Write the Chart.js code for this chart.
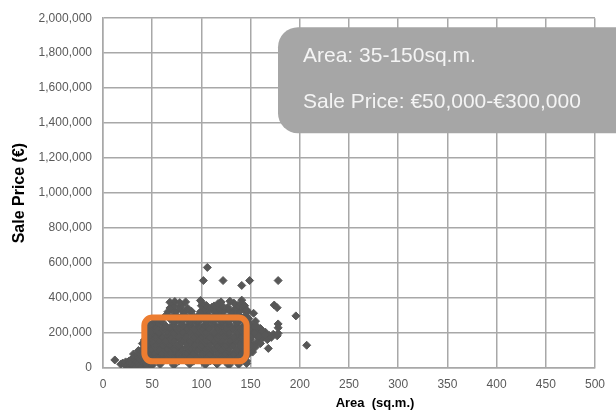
<!DOCTYPE html>
<html lang="en">
<head>
<meta charset="utf-8">
<title>Sale price vs area</title>
<script src="https://cdn.jsdelivr.net/npm/chart.js@4.4.1/dist/chart.umd.min.js"></script>
<style>
  html, body { margin: 0; padding: 0; background: #fff; }
  #wrap { width: 616px; height: 411px; position: relative; }
</style>
</head>
<body>
<div id="wrap"><canvas id="chart"></canvas></div>
<script>
const areaTicks = [0, 50, 100, 150, 200, 250, 300, 350, 400, 450, 500];
const priceTicks = [0, 200000, 400000, 600000, 800000, 1000000, 1200000, 1400000, 1600000, 1800000, 2000000];

// [area sq.m., sale price €]
const coreSales = [
  [44,40000],[52,43000],[60,38000],[68,42000],[77,40000],[84,44000],[92,39000],[100,42000],[109,40000],[116,43000],[124,38000],[132,41000],[140,44000],[146,40000],
  [48,51000],[56,53000],[64,49000],[72,52000],[80,50000],[88,54000],[96,50000],[104,52000],[112,49000],[120,53000],[128,51000],[136,50000],[143,53000],
  [48,62000],[56,65000],[64,60000],[72,63000],[81,61000],[88,66000],[96,62000],[105,60000],[112,64000],[120,62000],[128,66000],[136,61000],[144,63000],
  [44,74000],[52,76000],[60,72000],[68,75000],[76,73000],[84,77000],[92,74000],[100,72000],[108,76000],[116,73000],[124,75000],[132,77000],[140,73000],[147,75000],
  [45,85000],[52,88000],[60,84000],[69,87000],[76,86000],[85,89000],[92,84000],[101,87000],[108,85000],[117,88000],[124,86000],[133,84000],[140,89000],[147,86000],
  [48,98000],[56,100000],[64,96000],[73,99000],[80,97000],[88,101000],[96,98000],[104,96000],[112,100000],[120,98000],[128,96000],[136,100000],[144,97000],
  [49,110000],[57,108000],[65,112000],[73,109000],[80,111000],[89,113000],[97,108000],[104,111000],[113,110000],[121,108000],[128,112000],[137,110000],[144,108000],
  [45,122000],[53,120000],[61,124000],[69,121000],[76,123000],[85,120000],[93,124000],[100,122000],[108,120000],[117,123000],[124,121000],[132,124000],[140,120000],[147,123000],
  [45,134000],[53,136000],[61,132000],[68,135000],[77,133000],[85,137000],[93,134000],[100,132000],[109,136000],[116,134000],[125,131000],[132,135000],[141,133000],[147,137000],
  [49,146000],[57,148000],[64,144000],[72,147000],[80,145000],[89,149000],[96,146000],[104,144000],[113,148000],[120,146000],[128,144000],[136,148000],[144,145000],
  [48,158000],[57,160000],[64,156000],[72,159000],[81,161000],[89,157000],[96,160000],[105,158000],[112,162000],[120,157000],[129,159000],[136,161000],[144,156000],
  [45,170000],[53,172000],[61,168000],[68,171000],[77,169000],[84,173000],[92,170000],[100,168000],[109,172000],[116,170000],[124,168000],[133,172000],[140,169000],[147,171000],
  [46,181000],[53,184000],[60,180000],[69,183000],[76,182000],[84,185000],[93,180000],[100,183000],[108,181000],[117,184000],[124,182000],[133,179000],[140,184000],[147,181000],
  [49,194000],[57,196000],[65,192000],[72,195000],[80,193000],[89,197000],[96,194000],[104,192000],[113,196000],[120,194000],[128,192000],[137,196000],[144,193000],
  [49,207000],[57,204000],[65,208000],[72,205000],[81,206000],[88,209000],[97,204000],[104,207000],[113,205000],[120,208000],[128,204000],[137,206000],[144,209000],
  [45,218000],[53,220000],[61,216000],[69,219000],[76,217000],[85,221000],[93,218000],[100,216000],[108,220000],[117,218000],[124,216000],[132,220000],[140,217000],[147,219000],
  [47,232000],[55,228000],[61,233000],[68,230000],[77,228000],[85,232000],[92,229000],[101,231000],[108,228000],[116,233000],[125,230000],[132,227000],[141,231000],
  [52,242000],[64,240000],[72,243000],[81,241000],[88,244000],[97,240000],[104,243000],[113,241000],[120,244000],[129,240000],[136,243000],[144,241000],
  [50,250000],[57,256000],[72,253000],[80,255000],[89,252000],[96,256000],[105,253000],[112,251000],[121,255000],[128,253000],[136,256000],[145,252000],
  [60,266000],[72,264000],[80,268000],[89,265000],[96,267000],[105,264000],[113,268000],[121,265000],[128,267000],[137,264000],[144,268000],
  [53,276000],[68,280000],[76,277000],[85,279000],[93,276000],[100,280000],[109,277000],[117,281000],[124,276000],[133,279000],[140,277000],
  [68,290000],[76,292000],[85,288000],[93,291000],[101,289000],[109,293000],[117,290000],[125,288000],[133,292000],[141,289000],
  [64,302000],[72,299000],[81,303000],[89,298000],[97,301000],[104,304000],[113,300000],[120,302000],[129,298000],[137,303000],[145,300000]
];
const upperSales = [
  [66,322000],[74,325000],[83,320000],[90,324000],[99,321000],[107,326000],[115,321000],[123,324000],[131,320000],[139,325000],[147,322000],
  [70,333000],[79,335000],[87,331000],[103,332000],[111,336000],[119,332000],[127,335000],[135,331000],[143,334000],
  [68,343000],[78,348000],[86,342000],[103,344000],[111,349000],[119,343000],[127,347000],[135,343000],[143,349000],
  [72,357000],[80,360000],[100,356000],[105,358000],[113,355000],[121,357000],[137,358000],[144,356000],
  [101,372000],[117,369000],[133,371000],[140,367000],
  [68,376000],[73,380000],[78,374000],[84,378000],[99,386000],[120,378000],[129,382000],[141,388000]
];
const rightTailSales = [
  [150,250000],[153,232000],[157,214000],[161,196000],[165,205000],[169,186000],[173,193000],[177,184000],
  [151,207000],[155,188000],[159,170000],[163,175000],[150,162000],[149,142000],[153,131000],[157,150000],
  [167,162000],[152,112000],[149,95000],[146,75000],[152,91000],[155,268000],[148,282000],[151,180000],[160,226000],
  [148,220000],[147,195000],[154,200000],[158,182000],[162,210000],[148,240000],[156,240000],[146,170000],
  [150,125000],[147,110000],[155,120000],[160,140000],[164,188000],[171,175000]
];
const lowerLeftSales = [
  [12,46000],[18,22000],[20,28000],[22,20000],[23,35000],[24,12000],[26,38000],[27,5000],[27,28000],[28,45000],
  [29,20000],[30,55000],[31,10000],[31,80000],[32,62000],[33,5000],[33,42000],[34,32000],[35,75000],[36,28000],
  [36,58000],[36,100000],[37,15000],[38,50000],[38,82000],[39,5000],[39,98000],[40,65000],[40,140000],[41,30000],
  [41,105000],[42,120000],[42,160000],[43,70000],[43,90000],[44,25000],[44,130000],[44,150000],[45,8000],[45,195000],
  [46,180000],[47,210000],[48,246000],[50,15000],
  [58,20000],[72,15000],[88,22000],[104,18000],[116,22000],[128,15000],[138,20000],[146,26000]
];
const outlierSales = [
  [106,575000],[102,500000],[122,500000],[141,472000],[149,500000],[178,500000],[174,360000],[177,345000],
  [153,313000],[146,331000],[178,252000],[178,230000],[178,198000],[168,112000],[196,298000],[207,130000]
];

// highlighted range and callout text
const highlightArea = [42, 146];
const highlightPrice = [38000, 289000];
const noteLines = ['Area: 35-150sq.m.', 'Sale Price: €50,000-€300,000'];

const allSales = [...coreSales, ...upperSales, ...rightTailSales, ...lowerLeftSales, ...outlierSales];

const FONT = '"Liberation Sans", Arial, sans-serif';
const GRID = '#a8a8a8';

const overlays = {
  id: 'overlays',
  afterDatasetsDraw(chart) {
    const { ctx, chartArea, scales: { x, y } } = chart;
    ctx.save();

    // orange highlight box
    const l = x.getPixelForValue(highlightArea[0]);
    const r = x.getPixelForValue(highlightArea[1]);
    const t = y.getPixelForValue(highlightPrice[1]);
    const b = y.getPixelForValue(highlightPrice[0]);
    ctx.beginPath();
    ctx.roundRect(l, t, r - l, b - t, 8);
    ctx.lineWidth = 6;
    ctx.strokeStyle = '#ED7D31';
    ctx.stroke();

    // grey callout
    const nx = chartArea.left + 175;
    const ny = chartArea.top + 9;
    ctx.beginPath();
    ctx.roundRect(nx, ny, 380, 106, 20);
    ctx.fillStyle = '#a6a6a6';
    ctx.fill();
    ctx.fillStyle = '#f4f4f4';
    ctx.font = '21px ' + FONT;
    ctx.textBaseline = 'alphabetic';
    ctx.fillText(noteLines[0], nx + 25, ny + 35);
    ctx.fillText(noteLines[1], nx + 25, ny + 81);

    // x axis title
    ctx.fillStyle = '#000';
    ctx.font = 'bold 13px ' + FONT;
    ctx.textAlign = 'center';
    ctx.fillText('Area  (sq.m.)', (chartArea.left + chartArea.right) / 2 + 26, chartArea.bottom + 39);
    ctx.restore();
  }
};

new Chart(document.getElementById('chart'), {
  type: 'scatter',
  data: {
    datasets: [{
      label: 'Sales',
      data: allSales.map(([a, p]) => ({ x: a, y: p })),
      pointStyle: 'rectRot',
      pointRadius: 4,
      borderWidth: 1,
      backgroundColor: '#575757',
      borderColor: '#575757'
    }]
  },
  options: {
    responsive: true,
    maintainAspectRatio: false,
    animation: false,
    devicePixelRatio: 1,
    layout: { padding: { top: 18, right: 21, left: 0, bottom: 0 } },
    plugins: { legend: { display: false }, tooltip: { enabled: false } },
    scales: {
      x: {
        type: 'linear',
        min: 0,
        max: 500,
        afterBuildTicks: s => { s.ticks = areaTicks.map(v => ({ value: v })); },
        afterFit: s => { s.height = 43; },
        ticks: { color: '#595959', padding: 9, font: { family: FONT, size: 12 } },
        grid: { color: GRID, lineWidth: 1.5, drawTicks: false },
        border: { color: GRID, width: 1.5 }
      },
      y: {
        type: 'linear',
        min: 0,
        max: 2000000,
        afterBuildTicks: s => { s.ticks = priceTicks.map(v => ({ value: v })); },
        afterFit: s => { s.width = 103; },
        ticks: {
          color: '#595959',
          padding: 11,
          font: { family: FONT, size: 12 },
          callback: v => v.toLocaleString('en-US')
        },
        grid: { color: GRID, lineWidth: 1.5, drawTicks: false },
        border: { color: GRID, width: 1.5 },
        title: {
          display: true,
          text: 'Sale Price (€)',
          color: '#000',
          font: { family: FONT, size: 16, weight: 'bold' },
          padding: { top: 10, bottom: 0 }
        }
      }
    }
  },
  plugins: [overlays]
});
</script>
</body>
</html>
